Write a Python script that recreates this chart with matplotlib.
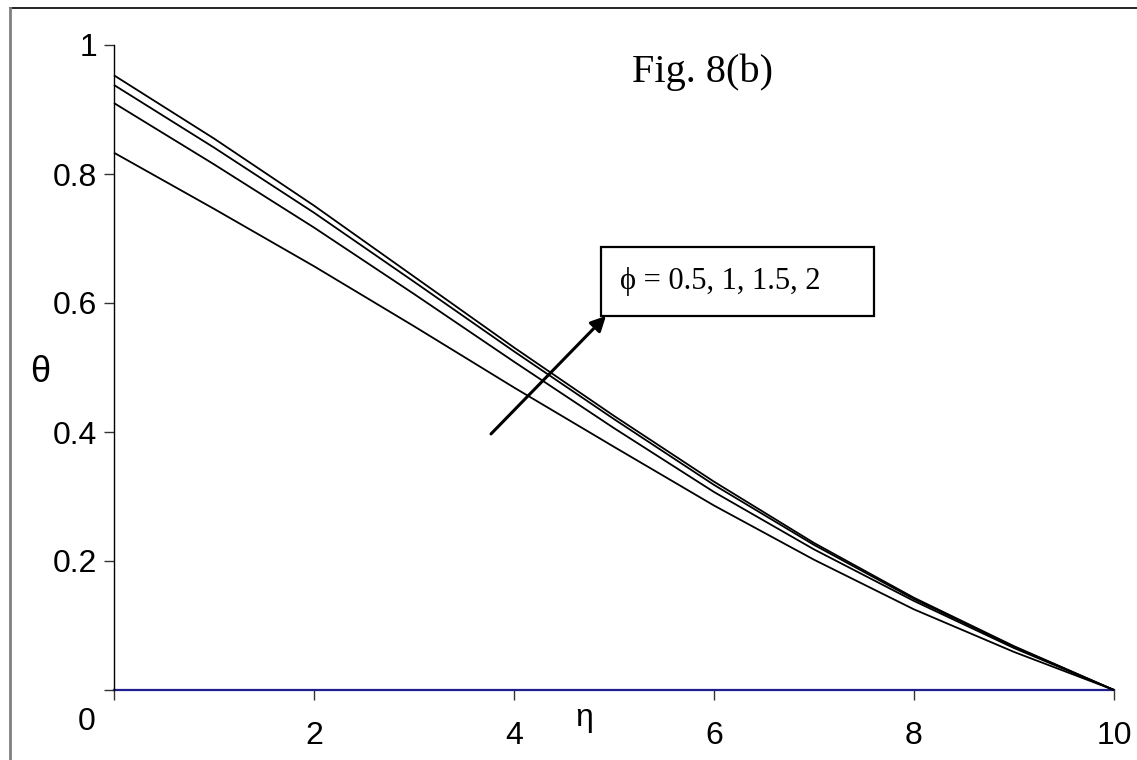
import matplotlib
matplotlib.use("Agg")
import matplotlib.pyplot as plt
from matplotlib.lines import Line2D
from matplotlib.patches import Rectangle

# data
eta = [0, 1, 2, 3, 4, 5, 6, 7, 8, 9, 10]
theta_phi_0_5 = [0.833, 0.746, 0.657, 0.564, 0.469, 0.377, 0.286, 0.202, 0.125, 0.059, 0.0]
theta_phi_1_0 = [0.910, 0.815, 0.717, 0.614, 0.509, 0.406, 0.307, 0.218, 0.138, 0.065, 0.0]
theta_phi_1_5 = [0.938, 0.841, 0.740, 0.633, 0.525, 0.420, 0.318, 0.225, 0.141, 0.067, 0.0]
theta_phi_2_0 = [0.953, 0.855, 0.751, 0.641, 0.531, 0.425, 0.323, 0.228, 0.143, 0.068, 0.0]
series = [theta_phi_0_5, theta_phi_1_0, theta_phi_1_5, theta_phi_2_0]

xticks = [0, 2, 4, 6, 8, 10]
xticklabels = ["", "2", "4", "6", "8", "10"]
yticks = [0, 0.2, 0.4, 0.6, 0.8, 1.0]
yticklabels = ["", "0.2", "0.4", "0.6", "0.8", "1"]
annot_text = "\u03d5 = 0.5, 1, 1.5, 2"
title_text = "Fig. 8(b)"

W, H = 1137, 760
fig = plt.figure(figsize=(W / 100, H / 100), dpi=100)
fig.patch.set_facecolor("white")

ax = fig.add_axes([114 / W, 1 - 690 / H, 1000 / W, 645 / H])
ax.set_xlim(0, 10)
ax.set_ylim(0, 1)

for s in series:
    ax.plot(eta, s, color="black", lw=1.3, solid_capstyle="butt", clip_on=False)

# baseline
ax.plot([0, 10], [0, 0], color="#1f1f8f", lw=1.6, clip_on=False, zorder=1)

for side in ["top", "right", "bottom"]:
    ax.spines[side].set_visible(False)
ax.spines["left"].set_color("black")
ax.spines["left"].set_linewidth(1.0)

ax.set_xticks(xticks)
ax.set_xticklabels(xticklabels)
ax.set_yticks(yticks)
ax.set_yticklabels(yticklabels)
ax.tick_params(axis="both", direction="out", length=7, width=1.0, color="#333333",
               labelsize=23)
ax.tick_params(axis="y", pad=5)
ax.tick_params(axis="x", pad=15)
for lab in ax.get_xticklabels() + ax.get_yticklabels():
    lab.set_fontfamily("Liberation Sans")

# stray "0" label
fig.text(87 / W, 1 - 722 / H, "0", fontsize=23, family="Liberation Sans",
         ha="center", va="center")
# axis labels
fig.text(40 / W, 1 - 372 / H, "\u03b8", fontsize=26, family="Liberation Sans",
         ha="center", va="center")
fig.text(584 / W, 1 - 718 / H, "\u03b7", fontsize=23, family="Liberation Sans",
         ha="center", va="center")

# title inside plot
ax.text(5.89, 0.958, title_text, fontsize=29, family="Liberation Serif",
        ha="center", va="center")

# annotation box
ax.add_patch(Rectangle((4.87, 0.580), 2.73, 0.107, fc="white", ec="black", lw=1.6,
                       zorder=3, clip_on=False))
ax.text(5.06, 0.634, annot_text, fontsize=22,
        family=["Liberation Serif", "DejaVu Serif"], ha="left", va="center", zorder=4)
ax.annotate("", xy=(4.92, 0.580), xytext=(3.77, 0.397),
            arrowprops=dict(arrowstyle="-|>,head_length=0.9,head_width=0.45",
                            color="black", lw=2.2, shrinkA=0, shrinkB=0), zorder=5)

# outer frame
fig.add_artist(Line2D([10 / W, 1.0], [1 - 8 / H, 1 - 8 / H], color="black", lw=1.2,
                      transform=fig.transFigure))
fig.add_artist(Line2D([10 / W, 10 / W], [0, 1 - 8 / H], color="#808080", lw=2.0,
                      transform=fig.transFigure))

fig.savefig("out.png", dpi=100)
